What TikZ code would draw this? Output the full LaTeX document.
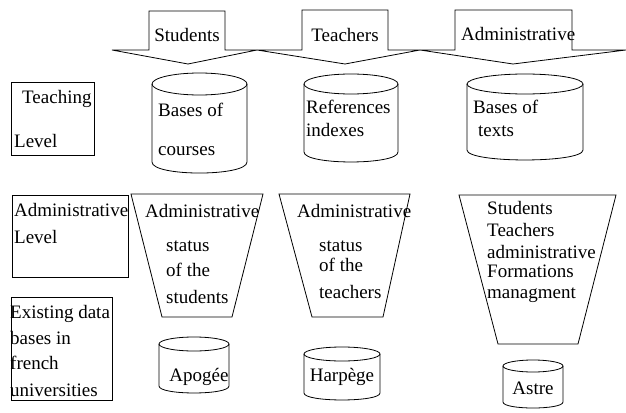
\documentclass[tikz,border=0pt]{standalone}
\usepackage{fontspec}
\setmainfont{Liberation Serif}
\usepackage{tikz}

\tikzset{
  ln/.style={line width=0.8pt, line join=miter},
  lbl/.style={anchor=base west, inner sep=0pt, font=\fontsize{19}{19}\selectfont},
  lblc/.style={anchor=base, inner sep=0pt, font=\fontsize{19}{19}\selectfont}
}

\begin{document}
\begin{tikzpicture}[x=1pt, y=-1pt]
\useasboundingbox (0,0) rectangle (626,412);
\draw[ln] (112,50) -- (149,50) -- (149,11) -- (225,11) -- (225,50) -- (257,50) -- (188,64) -- cycle;
\draw[ln] (257,50) -- (302,50) -- (302,10) -- (388,10) -- (388,50) -- (420,50) -- (345,64) -- cycle;
\draw[ln] (420,50) -- (455,50) -- (455,10) -- (572,10) -- (572,50) -- (626,50) -- (513,64) -- cycle;
\node[lblc] (stu) at (187,42) {Students};
\node[lblc] (tea) at (345,42) {Teachers};
\node[lbl] (adm) at (461,41) {Administrative};
\draw[ln] (11,82) rectangle (94,155);
\node[lbl] (t1) at (22,103) {Teaching};
\node[lbl] (t2) at (14,147) {Level};
\draw[ln] (199.5,84) ellipse [x radius=47.5, y radius=11];
\draw[ln] (152,84) -- (152,162) .. controls (152,176.7) and (247,176.7) .. (247,162) -- (247,84);
\node[lbl] (c1a) at (158,116) {Bases of};
\node[lbl] (c1b) at (158,155) {courses};
\draw[ln] (351,84) ellipse [x radius=47, y radius=10];
\draw[ln] (304,84) -- (304,152) .. controls (304,165.3) and (398,165.3) .. (398,152) -- (398,84);
\node[lbl] (c2a) at (306,113) {References};
\node[lbl] (c2b) at (306,136) {indexes};
\draw[ln] (525,84) ellipse [x radius=58, y radius=10];
\draw[ln] (467,84) -- (467,150) .. controls (467,163.3) and (583,163.3) .. (583,150) -- (583,84);
\node[lbl] (c3a) at (473,113) {Bases of};
\node[lbl] (c3b) at (478,136) {texts};
\draw[ln] (12,195) rectangle (128,277);
\node[lbl] (a1) at (14,216) {Administrative};
\node[lbl] (a2) at (14,243) {Level};
\draw[ln] (131,194) -- (263,194) -- (232,317) -- (162,317) -- cycle;
\node[lbl] (p1a) at (145,217) {Administrative};
\node[lbl] (p1b) at (166,251) {status};
\node[lbl] (p1c) at (166,276) {of the};
\node[lbl] (p1d) at (166,303) {students};
\draw[ln] (279,194) -- (410,194) -- (383,317) -- (312,317) -- cycle;
\node[lbl] (p2a) at (297,217) {Administrative};
\node[lbl] (p2b) at (319,251) {status};
\node[lbl] (p2c) at (319,271) {of the};
\node[lbl] (p2d) at (319,298) {teachers};
\draw[ln] (459,195) -- (616,195) -- (578,344) -- (498,344) -- cycle;
\node[lbl] (p3a) at (487,214) {Students};
\node[lbl] (p3b) at (487,236) {Teachers};
\node[lbl] (p3c) at (487,258) {administrative};
\node[lbl] (p3d) at (487,277) {Formations};
\node[lbl] (p3e) at (487,298) {managment};
\draw[ln] (11,297) rectangle (112,400);
\node[lbl] (e1) at (10,318) {Existing data};
\node[lbl] (e2) at (10,344) {bases in};
\node[lbl] (e3) at (10,369) {french};
\node[lbl] (e4) at (10,396) {universities};
\draw[ln] (194,344) ellipse [x radius=35, y radius=7];
\draw[ln] (159,344) -- (159,386) .. controls (159,395.3) and (229,395.3) .. (229,386) -- (229,344);
\node[lblc] (apo) at (199,381) {Apogée};
\draw[ln] (342,354) ellipse [x radius=38, y radius=7];
\draw[ln] (304,354) -- (304,393) .. controls (304,402.3) and (380,402.3) .. (380,393) -- (380,354);
\node[lblc] (har) at (342,381) {Harpège};
\draw[ln] (533,366) ellipse [x radius=30, y radius=6];
\draw[ln] (503,366) -- (503,402) .. controls (503,410) and (563,410) .. (563,402) -- (563,366);
\node[lblc] (ast) at (533,394) {Astre};
\end{tikzpicture}
\end{document}
